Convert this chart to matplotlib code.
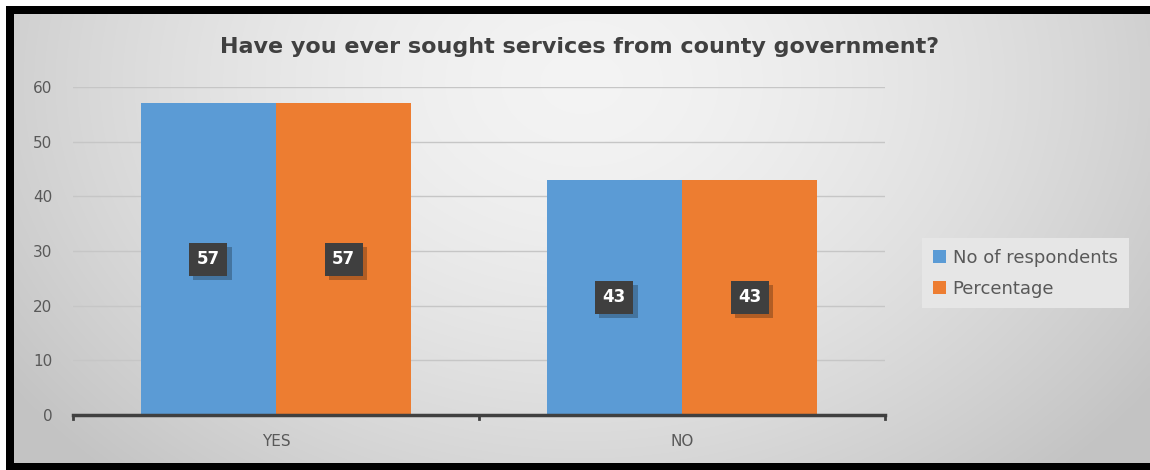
import numpy as np
import matplotlib
matplotlib.use("Agg")
import matplotlib.pyplot as plt
from matplotlib.patches import Rectangle
import matplotlib.patheffects as pe

categories = ["YES", "NO"]
series_names = ["No of respondents", "Percentage"]
respondents = [57, 43]
percentage = [57, 43]
yticks = [0, 10, 20, 30, 40, 50, 60]
title = "Have you ever sought services from county government?"

W, H = 1150, 470
fig = plt.figure(figsize=(W / 100, H / 100), dpi=100)
fig.patch.set_facecolor("white")

# background layer in pixel coordinates
bg = fig.add_axes([0, 0, 1, 1], zorder=0)
bg.axis("off")
bg.add_patch(Rectangle((6, 6), W - 6, H - 6, facecolor="black", edgecolor="none", zorder=1))
x0, x1, y0, y1 = 14, W, 14, 463
gx = np.linspace(0, 1, 400)
gy = np.linspace(0, 1, 160)
GX, GY = np.meshgrid(gx, gy)
d = np.sqrt(((GX - 0.5) / 0.62) ** 2 + ((GY - 0.15) / 1.2) ** 2)
val = 0.955 - 0.19 * np.clip(d, 0, 1) ** 1.6
img = np.dstack([val, val, val])
bg.imshow(img, extent=(x0, x1, y1, y0), aspect="auto", interpolation="bilinear", zorder=2)
bg.set_xlim(0, W)
bg.set_ylim(H, 0)

# main chart axes
left, right = 73 / W, 885 / W
bottom, top = (H - 415) / H, (H - 87) / H
ax = fig.add_axes([left, bottom, right - left, top - bottom], zorder=1)
ax.patch.set_alpha(0)

x = np.arange(len(categories))
bw = 1 / 3
blue = "#5B9BD5"
orange = "#ED7D31"
b1 = ax.bar(x - bw / 2, respondents, bw, color=blue, label=series_names[0], zorder=2)
b2 = ax.bar(x + bw / 2, percentage, bw, color=orange, label=series_names[1], zorder=2)

ax.set_xlim(-0.5, len(categories) - 0.5)
ax.set_ylim(0, 60)
ax.set_yticks(yticks)
ax.set_yticklabels([str(t) for t in yticks], fontsize=11, color="#595959")
ax.grid(axis="y", color="#c6c6c6", linewidth=1, zorder=0)
ax.set_axisbelow(True)
for s in ["top", "right", "left"]:
    ax.spines[s].set_visible(False)
ax.spines["bottom"].set_color("#404040")
ax.spines["bottom"].set_linewidth(2.5)
ax.tick_params(axis="y", length=0, pad=15)

ax.set_xticks(x)
ax.set_xticklabels(categories, fontsize=11, color="#595959")
ax.tick_params(axis="x", length=0, pad=14)
# category boundary tick marks
for b in np.arange(-0.5, len(categories) + 0.5, 1.0):
    ax.plot([b, b], [0, -0.8], color="#404040", lw=2, clip_on=False, zorder=3)

# data labels
for bars, vals in [(b1, respondents), (b2, percentage)]:
    for rect, v in zip(bars, vals):
        cx = rect.get_x() + rect.get_width() / 2
        cy = v / 2
        t = ax.text(cx, cy, str(v), ha="center", va="center", fontsize=12,
                    fontweight="bold", color="white",
                    bbox=dict(boxstyle="square,pad=0.45", facecolor="#3f3f3f",
                              edgecolor="none"), zorder=5)
        t.get_bbox_patch().set_path_effects(
            [pe.SimplePatchShadow(offset=(3, -3), shadow_rgbFace="black", alpha=0.25),
             pe.Normal()])

fig.text(580 / W, 1 - 47 / H, title, ha="center", va="center",
         fontsize=16, fontweight="bold", color="#404040")

leg = fig.legend(handles=[b1, b2], labels=series_names,
                 loc="upper left", bbox_to_anchor=(913 / W, 1 - 229 / H),
                 fontsize=13, frameon=True, fancybox=False,
                 handlelength=0.7, handleheight=0.7, handletextpad=0.4,
                 labelspacing=0.7, borderpad=0.6, labelcolor="#595959")
leg.get_frame().set_facecolor("#e6e6e6")
leg.get_frame().set_edgecolor("none")
leg.get_frame().set_alpha(1)

fig.savefig("out.png", dpi=100)
